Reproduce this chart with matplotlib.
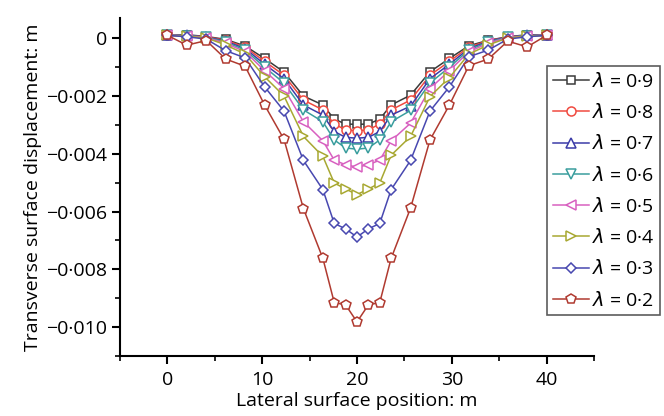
import matplotlib
matplotlib.use('Agg')
import matplotlib.pyplot as plt
from matplotlib.ticker import MultipleLocator, FuncFormatter

plt.rcParams['font.family'] = ['Open Sans', 'DejaVu Sans']
plt.rcParams['mathtext.fontset'] = 'dejavusans'

# lateral positions (m)
pos = [0, 2.05, 4.1, 6.15, 8.2, 10.25, 12.3, 14.35, 16.4, 17.6, 18.8, 20,
       21.2, 22.4, 23.6, 25.65, 27.7, 29.75, 31.8, 33.85, 35.9, 37.95, 40]

# transverse displacement, units of 1e-3 m
lam09 = [0.10, 0.12, 0.06, -0.04, -0.27, -0.70, -1.17, -2.00, -2.31, -2.80, -2.97, -2.98,
         -2.97, -2.80, -2.31, -1.97, -1.16, -0.70, -0.26, -0.07, 0.05, 0.12, 0.10]
lam08 = [0.10, 0.10, 0.05, -0.07, -0.31, -0.80, -1.28, -2.14, -2.48, -2.97, -3.17, -3.20,
         -3.17, -2.97, -2.48, -2.14, -1.28, -0.80, -0.31, -0.08, 0.04, 0.10, 0.10]
lam07 = [0.10, 0.10, 0.04, -0.10, -0.36, -0.90, -1.40, -2.31, -2.66, -3.23, -3.43, -3.46,
         -3.43, -3.23, -2.66, -2.35, -1.40, -0.90, -0.36, -0.10, 0.04, 0.10, 0.10]
lam06 = [0.10, 0.09, 0.03, -0.13, -0.41, -1.00, -1.55, -2.48, -2.89, -3.52, -3.80, -3.84,
         -3.80, -3.52, -2.89, -2.50, -1.55, -1.00, -0.41, -0.13, 0.03, 0.09, 0.10]
lam05 = [0.10, 0.08, 0.02, -0.17, -0.47, -1.12, -1.74, -2.89, -3.55, -4.22, -4.38, -4.46,
         -4.38, -4.22, -3.55, -2.94, -1.74, -1.12, -0.47, -0.17, 0.02, 0.08, 0.10]
lam04 = [0.10, 0.07, 0.01, -0.23, -0.55, -1.33, -2.00, -3.40, -4.09, -5.01, -5.22, -5.41,
         -5.22, -5.01, -4.05, -3.40, -2.02, -1.36, -0.55, -0.23, 0.01, 0.07, 0.10]
lam03 = [0.10, 0.05, -0.03, -0.43, -0.68, -1.68, -2.52, -4.23, -5.24, -6.41, -6.60, -6.88,
         -6.60, -6.41, -5.24, -4.23, -2.52, -1.68, -0.64, -0.41, -0.03, 0.05, 0.10]
lam02 = [0.10, -0.24, -0.08, -0.72, -0.97, -2.31, -3.50, -5.90, -7.62, -9.15, -9.23, -9.82,
         -9.23, -9.15, -7.62, -5.88, -3.52, -2.31, -0.95, -0.72, -0.10, -0.30, 0.10]

series = [lam09, lam08, lam07, lam06, lam05, lam04, lam03, lam02]
labels = ['0·9', '0·8', '0·7', '0·6', '0·5', '0·4', '0·3', '0·2']
colors = ['#3a3a3a', '#f04a40', '#3c3ca8', '#3a9e9e', '#d860c0', '#a8a832', '#4848b0', '#b03a30']
markers = ['s', 'o', '^', 'v', '<', '>', 'D', 'p']
msizes = [5.5, 6.5, 7, 7, 7, 7, 5.5, 7.5]

fig = plt.figure(figsize=(6.64, 4.16), dpi=100)
ax = fig.add_axes([0.1807, 0.1442, 0.7139, 0.8125])

for i, ys in enumerate(series):
    ax.plot(pos, [v * 1e-3 for v in ys], color=colors[i], marker=markers[i],
            markersize=msizes[i], markerfacecolor='white', markeredgecolor=colors[i],
            markeredgewidth=1.1, linewidth=1.1, label=r'$\lambda$ = ' + labels[i])

ax.set_xlim(-5, 45)
ax.set_ylim(-0.011, 0.0007)
ax.spines['top'].set_visible(False)
ax.spines['right'].set_visible(False)
for s in ['left', 'bottom']:
    ax.spines[s].set_linewidth(1.5)

ax.xaxis.set_major_locator(MultipleLocator(10))
ax.xaxis.set_minor_locator(MultipleLocator(5))
ax.yaxis.set_major_locator(MultipleLocator(0.002))
ax.yaxis.set_minor_locator(MultipleLocator(0.001))


def fmt_y(v, p):
    if abs(v) < 1e-9:
        return '0'
    return ('%.3f' % v).replace('-', '\u2212').replace('.', '·')


ax.yaxis.set_major_formatter(FuncFormatter(fmt_y))
ax.xaxis.set_major_formatter(FuncFormatter(lambda v, p: '%d' % v))
ax.tick_params(which='major', direction='out', length=6, width=1.5, labelsize=14, pad=3)
ax.tick_params(axis='x', which='major', pad=5)
ax.tick_params(which='minor', direction='out', length=3.5, width=1.2)

ax.set_xlabel('Lateral surface position: m', fontsize=14, labelpad=2)
ax.set_ylabel('Transverse surface displacement: m', fontsize=14, labelpad=3)

leg = ax.legend(loc='upper left', bbox_to_anchor=(547 / 664, 1 - 66 / 416),
                bbox_transform=fig.transFigure, fontsize=14, frameon=True,
                fancybox=False, handlelength=1.85, handletextpad=0.15,
                labelspacing=0.63, borderpad=0.3, borderaxespad=0)
leg.get_frame().set_edgecolor('#333333')
leg.get_frame().set_linewidth(1.2)

fig.savefig('out.png', dpi=100)
